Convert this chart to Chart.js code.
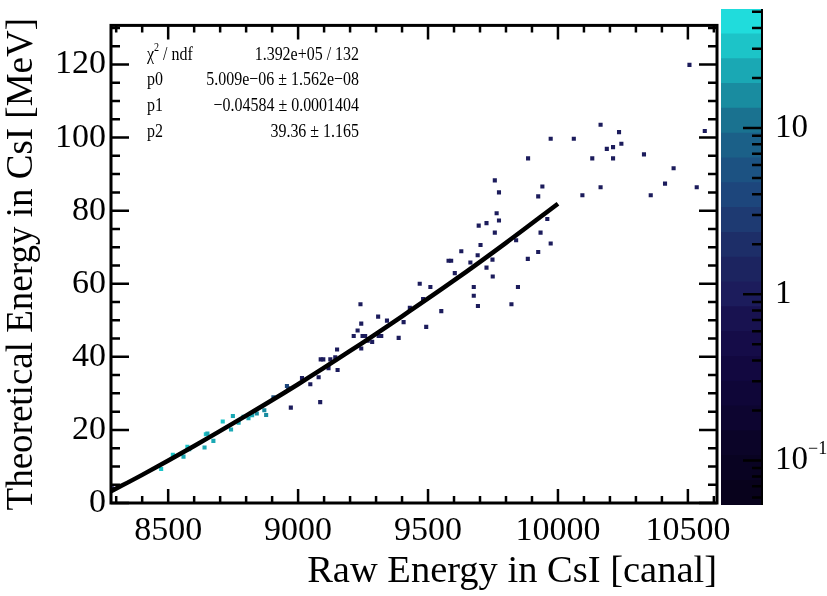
<!DOCTYPE html>
<html><head><meta charset="utf-8">
<script src="https://cdn.jsdelivr.net/npm/chart.js@4.4.0/dist/chart.umd.min.js"></script>
<style>
html,body{margin:0;padding:0;background:#fff;}
#wrap{position:relative;width:827px;height:596px;overflow:hidden;}
#main{position:absolute;left:0;top:0;}
#cbar{position:absolute;left:719px;top:0;}
</style></head><body>
<div id="wrap"><canvas id="main" width="827" height="596"></canvas><canvas id="cbar" width="108" height="596"></canvas></div>
<script>
// ---- axis ticks ----
const xTicks = [8500, 9000, 9500, 10000, 10500];
const yTicks = [0, 20, 40, 60, 80, 100, 120];
const zTicks = [0.1, 1, 10];
const zLabelBase = ['10', '1', '10'];
const zLabelExp = ['\u22121', '', ''];
const zMinorTicks = [0.06,0.07,0.08,0.09,0.2,0.3,0.4,0.5,0.6,0.7,0.8,0.9,2,3,4,5,6,7,8,9,20,30,40,50];

// ---- fit curve ----
const fitX = [8280, 8400, 8600, 8800, 9000, 9200, 9400, 9600, 9800, 10000];
const fitY = [3.2, 7.7, 15.6, 23.9, 32.5, 41.6, 51.1, 60.9, 71.2, 81.9];

// ---- fit statistics ----
const statNames = ['ndf', 'p0', 'p1', 'p2'];
const statValues = ['1.392e+05 / 132', '5.009e\u221206 \u00b1 1.562e\u221208', '\u22120.04584 \u00b1 0.0001404', '39.36 \u00b1 1.165'];

// ---- 2D histogram cells ----
const binX = [8284,8473,8518,8559,8574,8581,8645,8651,8640,8674,8710,8749,8742,8771,8790,8809,8823,8841,8870,8877,8905,8957,8962,8972,9085,9047,
 9015,9079,9087,9097,9117,9124,9143,9150,9152,9214,9229,9240,9243,9248,9258,9243,9268,9285,9308,9310,9320,9342,9387,9406,9430,9468,9481,9493,9509,9551,
 9579,9589,9603,9628,9663,9676,9676,9692,9695,9702,9691,9725,9725,9749,9748,9757,9773,9764,9773,9757,9821,9846,9839,9884,9885,9924,9924,9933,9940,9959,9972,9972,
 10061,10094,10132,10164,10164,10188,10212,10212,10235,10244,10331,10357,10412,10445,10506,10534,10565];
const binY = [4.0,9.3,13.2,12.7,15.4,14.7,18.8,19.0,15.2,17.0,22.3,23.8,20.1,22.0,23.6,23.2,24.0,24.5,25.4,24.1,28.9,32.0,31.4,26.1,27.6,32.5,
 34.2,34.4,39.3,39.3,36.9,39.3,39.9,42.0,36.4,45.7,47.2,54.4,49.1,45.7,45.7,42.3,44.4,44.1,51.0,45.7,45.7,49.9,45.2,49.5,53.4,60.0,55.8,48.2,59.1,52.5,
 66.3,66.3,62.9,68.9,65.8,59.1,56.7,53.9,75.9,70.6,67.8,76.6,64.4,62.0,66.6,88.3,85.0,79.3,77.3,74.0,54.4,59.1,71.9,66.8,94.3,68.7,83.9,74.0,86.6,77.7,71.0,99.7,
 99.7,84.2,94.3,103.5,86.4,96.9,97.4,94.3,101.5,98.3,95.4,84.2,87.4,91.6,119.9,86.4,101.8];
const binCount = [1,28,28,25,28,25,28,25,25,20,28,20,25,25,22,22,20,16,16,14,5,4,4,1,1,1,
 1,1,1,1,1,1,1,1,1,1,1,1,1,1,1,1,1,1,1,1,1,1,1,1,1,1,1,1,1,1,
 1,1,1,1,1,1,1,1,1,1,1,1,1,1,1,1,1,1,1,1,1,1,1,1,1,1,1,1,1,1,1,1,
 1,1,1,1,1,1,1,1,1,1,1,1,1,1,1,1,1];

// ---- colour palette (bands of the z colour bar) ----
const bandEdges = [0.054,0.0761,0.1073,0.1512,0.2132,0.3006,0.4238,0.5975,0.8426,1.188,1.675,2.362,3.330,4.695,6.620,9.333,13.16,18.55,26.16,36.88,52.0];
const bandColors = ['#08021c','#090322','#0b0428','#0d0530','#0f0638','#120840','#150c48','#181250','#1c1c5c','#1c2460',
 '#1d2e68','#1e3a72','#1d467c','#1c5282','#1b6088','#1a7290','#198ca0','#1aa8b4','#1cc4c8','#20dcdc'];

function colorFor(c){
  for (let k = 0; k < bandColors.length; k++) if (c >= bandEdges[k] && c < bandEdges[k+1]) return bandColors[k];
  return bandColors[bandColors.length-1];
}

const SERIF = "'Liberation Serif', 'Times New Roman', serif";

function condensedText(ctx, text, x, y, sx){
  ctx.save();
  ctx.translate(x, y);
  ctx.scale(sx, 1);
  ctx.fillText(text, 0, 0);
  ctx.restore();
}

const rootAxes = {
  id: 'rootAxes',
  afterDatasetsDraw(chart){
    const {ctx, chartArea: a, scales: {x, y}} = chart;
    ctx.save();
    ctx.strokeStyle = '#000';
    ctx.lineWidth = 2.5;
    ctx.beginPath();
    for (let v = 8300; v <= 10600; v += 100){
      const px = x.getPixelForValue(v);
      const L = (v % 500 === 0) ? 14 : 7;
      ctx.moveTo(px, a.bottom); ctx.lineTo(px, a.bottom - L);
      ctx.moveTo(px, a.top); ctx.lineTo(px, a.top + L);
    }
    for (let v = 0; v <= 130; v += 5){
      const py = y.getPixelForValue(v);
      const L = (v % 20 === 0) ? 18 : 9;
      ctx.moveTo(a.left, py); ctx.lineTo(a.left + L, py);
      ctx.moveTo(a.right, py); ctx.lineTo(a.right - L, py);
    }
    ctx.stroke();
    ctx.lineWidth = 3;
    ctx.strokeRect(a.left, a.top, a.right - a.left, a.bottom - a.top);
    // fit statistics box (no border, as in the reference)
    const sx = 0.84;
    ctx.fillStyle = '#000';
    ctx.textBaseline = 'middle';
    const rows = [55, 80, 106, 132];
    ctx.textAlign = 'left';
    ctx.font = '19px ' + SERIF;
    condensedText(ctx, '\u03c7', 147, rows[0], sx);
    const w = ctx.measureText('\u03c7').width * sx;
    ctx.font = '12px ' + SERIF;
    condensedText(ctx, '2', 147 + w, rows[0] - 7, sx);
    const w2 = ctx.measureText('2').width * sx;
    ctx.font = '19px ' + SERIF;
    condensedText(ctx, ' / ' + statNames[0], 147 + w + w2, rows[0], sx);
    for (let i = 1; i < 4; i++) condensedText(ctx, statNames[i], 147, rows[i], sx);
    ctx.textAlign = 'right';
    for (let i = 0; i < 4; i++) condensedText(ctx, statValues[i], 359, rows[i], sx);
    ctx.restore();
  }
};

new Chart(document.getElementById('main'), {
  type: 'scatter',
  data: {
    datasets: [
      {type: 'line', data: fitX.map((v, i) => ({x: v, y: fitY[i]})), borderColor: '#000', borderWidth: 4.5,
       pointRadius: 0, cubicInterpolationMode: 'monotone', fill: false, order: 0},
      {type: 'scatter', data: binX.map((v, i) => ({x: v, y: binY[i]})), pointStyle: 'rect', pointRadius: 2.9,
       pointBorderWidth: 0, pointBackgroundColor: binCount.map(colorFor), order: 1}
    ]
  },
  options: {
    responsive: false, animation: false, devicePixelRatio: 1,
    layout: {padding: {left: 0, right: 110, top: 9, bottom: 0}},
    plugins: {legend: {display: false}, tooltip: {enabled: false}},
    scales: {
      x: {type: 'linear', min: 8280, max: 10612,
        afterBuildTicks: s => { s.ticks = xTicks.map(v => ({value: v})); },
        afterFit: s => { s.height = 93; },
        grid: {display: false, drawTicks: false}, border: {display: false},
        ticks: {font: {family: SERIF, size: 34}, color: '#000', padding: 8, maxRotation: 0, autoSkip: false,
          callback: v => String(v)},
        title: {display: true, text: 'Raw Energy in CsI [canal]', align: 'end', color: '#000',
          font: {family: SERIF, size: 38.5}, padding: {top: 0, bottom: 1}}},
      y: {type: 'linear', min: 0, max: 130.7,
        afterBuildTicks: s => { s.ticks = yTicks.map(v => ({value: v})); },
        afterFit: s => { s.width = 111; },
        grid: {display: false, drawTicks: false}, border: {display: false},
        ticks: {font: {family: SERIF, size: 34}, color: '#000', padding: 5, autoSkip: false,
          callback: v => String(v)},
        title: {display: true, text: 'Theoretical Energy in CsI [MeV]', align: 'center', color: '#000',
          font: {family: SERIF, size: 37}, padding: {top: 0, bottom: 0}}}
    }
  },
  plugins: [rootAxes]
});

const cbarAxis = {
  id: 'cbarAxis',
  afterDatasetsDraw(chart){
    const {ctx, chartArea: a, scales: {y}} = chart;
    ctx.save();
    ctx.strokeStyle = '#000';
    ctx.lineWidth = 2.5;
    ctx.beginPath();
    zTicks.forEach(v => { const py = y.getPixelForValue(v); ctx.moveTo(a.right, py); ctx.lineTo(a.right - 20, py); });
    zMinorTicks.forEach(v => { const py = y.getPixelForValue(v); ctx.moveTo(a.right, py); ctx.lineTo(a.right - 11, py); });
    ctx.stroke();
    ctx.lineWidth = 2;
    ctx.beginPath(); ctx.moveTo(a.right - 1, a.top); ctx.lineTo(a.right - 1, a.bottom); ctx.stroke();
    ctx.fillStyle = '#000';
    ctx.textBaseline = 'middle'; ctx.textAlign = 'left';
    zTicks.forEach((v, i) => {
      const py = y.getPixelForValue(v);
      ctx.font = '33px ' + SERIF;
      const x0 = a.right + 12;
      ctx.fillText(zLabelBase[i], x0, py);
      if (zLabelExp[i]) {
        const w = ctx.measureText(zLabelBase[i]).width;
        ctx.font = '18px ' + SERIF;
        ctx.fillText(zLabelExp[i], x0 + w, py - 11);
      }
    });
    ctx.restore();
  }
};

new Chart(document.getElementById('cbar'), {
  type: 'bar',
  data: {labels: [''], datasets: bandColors.map((c, i) => ({data: [[bandEdges[i], bandEdges[i+1]]], backgroundColor: c,
    borderWidth: 0, barPercentage: 1, categoryPercentage: 1, grouped: false}))},
  options: {
    responsive: false, animation: false, devicePixelRatio: 1,
    layout: {padding: {left: 2, right: 64, top: 9, bottom: 91}},
    plugins: {legend: {display: false}, tooltip: {enabled: false}},
    scales: {x: {display: false}, y: {type: 'logarithmic', display: false, min: 0.054, max: 52}}
  },
  plugins: [cbarAxis]
});
</script>
</body></html>
